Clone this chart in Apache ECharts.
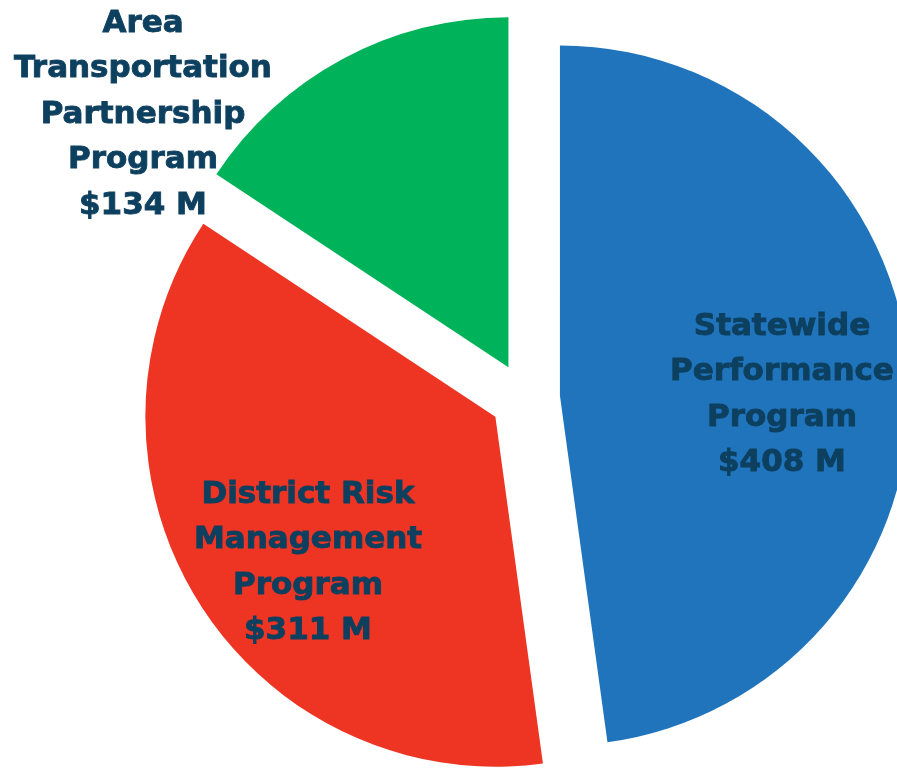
<!DOCTYPE html>
<html><head><meta charset="utf-8">
<script src="https://cdn.jsdelivr.net/npm/echarts@6/dist/echarts.min.js"></script>
<style>html,body{margin:0;padding:0;background:#fff}#c{width:897px;height:768px}</style>
</head><body><div id="c"></div>
<script>
const categories = ["Statewide\nPerformance\nProgram", "District Risk\nManagement\nProgram", "Area\nTransportation\nPartnership\nProgram"];
const values = [408, 311, 134];
const colors = ["#1f74bc", "#ee3524", "#00b259"];
const labelPos = [[782, 395], [308, 563], [143, 114.5]];

const common = {
  type: 'pie',
  center: [525, 398],
  radius: [0, 350],
  startAngle: 90,
  clockwise: true,
  emphasis: {disabled: true},
  labelLine: {show: false}
};

const chart = echarts.init(document.getElementById('c'), null, {renderer: 'canvas'});
chart.setOption({
  animation: false,
  series: [
    Object.assign({}, common, {
      selectedMode: 'multiple',
      selectedOffset: 35,
      label: {show: false},
      data: categories.map((n, i) => ({name: n, value: values[i], selected: true, itemStyle: {color: colors[i]}}))
    }),
    Object.assign({}, common, {
      silent: true,
      selectedMode: false,
      itemStyle: {color: 'rgba(0,0,0,0)'},
      label: {
        show: true,
        position: 'inside',
        formatter: p => p.name + '\n$' + p.value + ' M',
        color: '#0d3f5f',
        fontFamily: 'DejaVu Sans',
        fontWeight: 'bold',
        fontSize: 31,
        lineHeight: 45.5,
        textBorderColor: '#0d3f5f',
        textBorderWidth: 0.9,
        align: 'center',
        verticalAlign: 'middle'
      },
      labelLayout: p => ({x: labelPos[p.dataIndex][0], y: labelPos[p.dataIndex][1], align: 'center', verticalAlign: 'middle'}),
      data: categories.map((n, i) => ({name: n, value: values[i]}))
    })
  ]
});
</script></body></html>
